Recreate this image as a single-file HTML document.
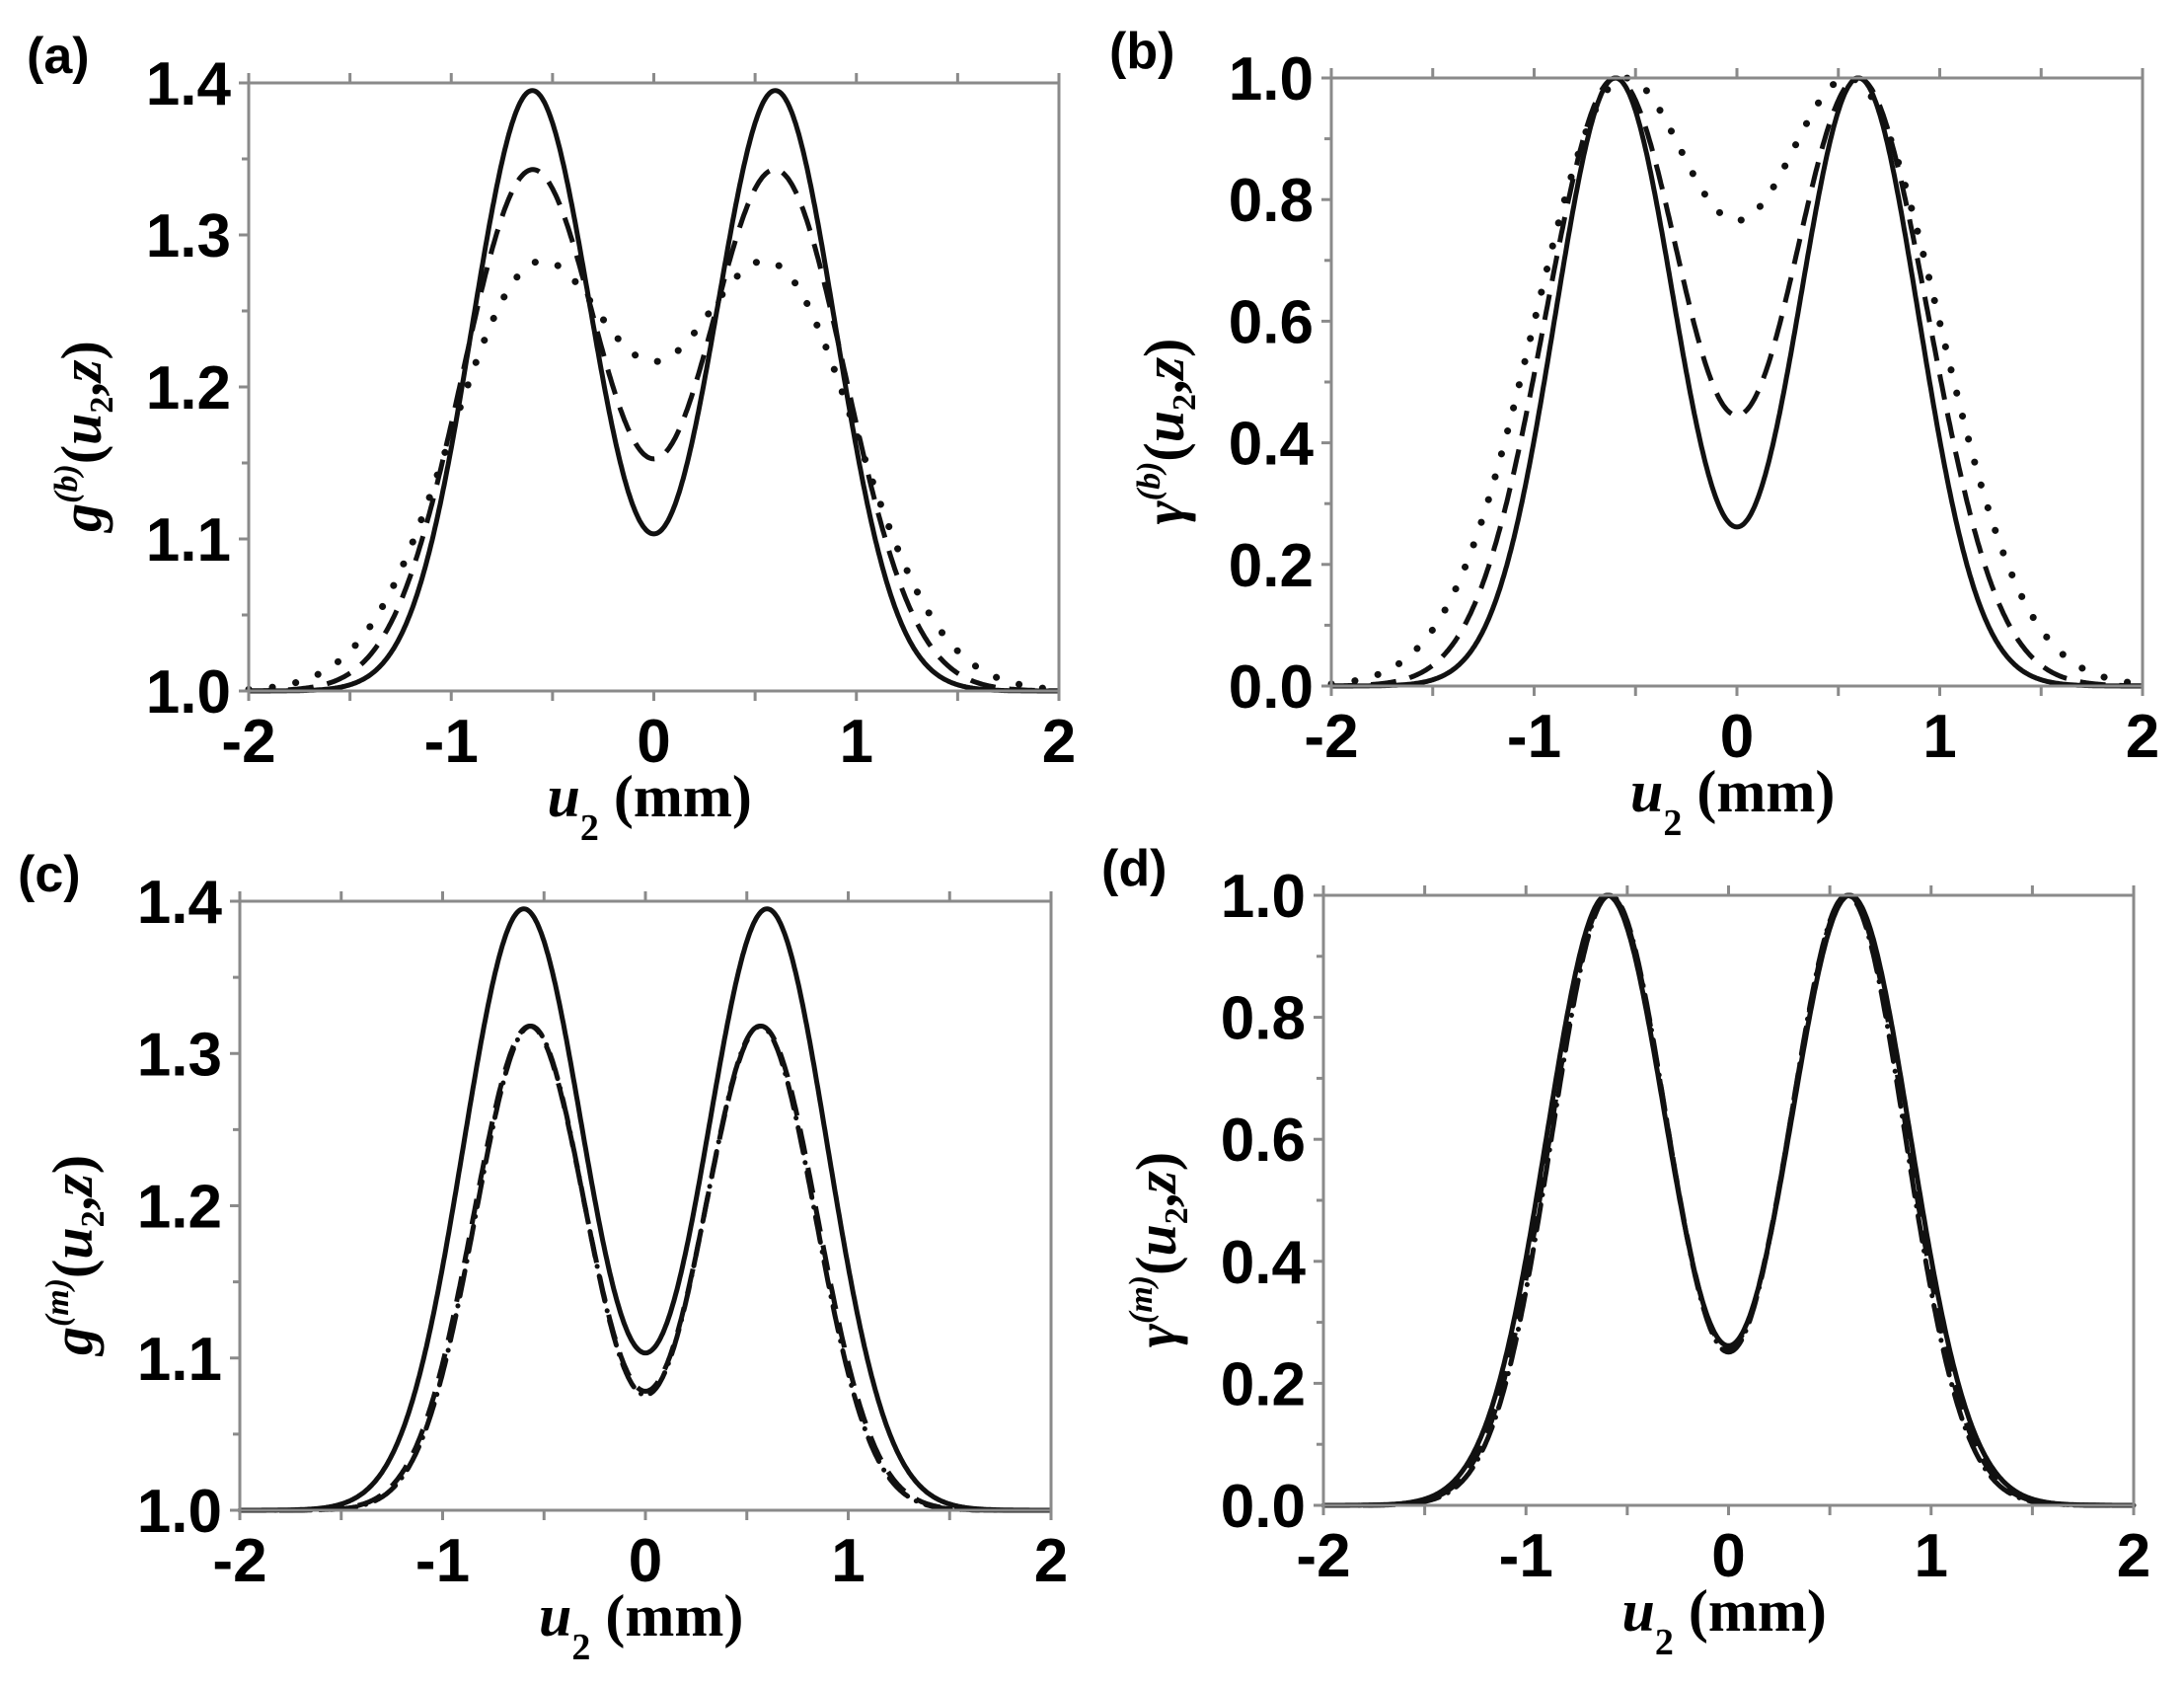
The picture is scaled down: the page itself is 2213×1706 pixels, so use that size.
<!DOCTYPE html>
<html><head><meta charset="utf-8"><style>
html,body{margin:0;padding:0;background:#fff;}
svg{display:block;}
</style></head><body>
<svg id="s" xmlns="http://www.w3.org/2000/svg" width="2213" height="1706" viewBox="0 0 2213 1706"></svg>
<script>
const NS="http://www.w3.org/2000/svg";
const S=document.getElementById('s');
function el(t,a,txt){const e=document.createElementNS(NS,t);for(const k in a)e.setAttribute(k,a[k]);if(txt!==undefined)e.textContent=txt;S.appendChild(e);return e;}
function prof(a,s2){const f=x=>Math.exp(-(x-a)*(x-a)/s2)+Math.exp(-(x+a)*(x+a)/s2);let m=0;for(let x=0;x<2;x+=0.001)m=Math.max(m,f(x));return x=>f(x)/m;}
const solid=prof(0.6,0.177), dash=prof(0.6,0.24), dot=prof(0.58,0.36), narrow=prof(0.57,0.155), narrow2=prof(0.565,0.15);
function panel(o){
 const {x0,x1,y0,y1,ymin,ymax,ticks,fmt,label,ylab,sup,curves}=o;
 const X=v=>x0+(v+2)/4*(x1-x0), Y=v=>y1-(v-ymin)/(ymax-ymin)*(y1-y0);
 for(const c of curves){
  let d="";for(let i=0;i<=800;i++){const u=-2+4*i/800;const v=c.f(u);d+=(i?"L":"M")+X(u).toFixed(1)+","+Y(v).toFixed(1);}
  el('path',{d,fill:'none',stroke:'#111','stroke-width':c.w||5,'stroke-dasharray':c.da||'none','stroke-linecap':c.cap||'butt'});
 }
 const g='#8a8a8a';
 el('path',{d:`M${x0},${y0}H${x1}V${y1}H${x0}Z`,fill:'none',stroke:g,'stroke-width':3});
 for(let v=-2;v<=2.001;v+=0.5){const xx=X(v);
  el('line',{x1:xx,y1:y1,x2:xx,y2:y1+10,stroke:g,'stroke-width':3});
  el('line',{x1:xx,y1:y0,x2:xx,y2:y0-10,stroke:g,'stroke-width':3});
  if(Math.abs(v-Math.round(v))<1e-6)el('text',{x:xx,y:y1+72,'text-anchor':'middle','font-family':'Liberation Sans,sans-serif','font-weight':'bold','font-size':62},String(Math.round(v)));}
 const n=ticks.length;
 for(let i=0;i<n;i++){const yy=Y(ticks[i]);
  el('line',{x1:x0,y1:yy,x2:x0-10,y2:yy,stroke:g,'stroke-width':3});
  el('text',{x:x0-18,y:yy+22,'text-anchor':'end','font-family':'Liberation Sans,sans-serif','font-weight':'bold','font-size':62},fmt(ticks[i]));
  if(i<n-1){const ym=Y((ticks[i]+ticks[i+1])/2);el('line',{x1:x0,y1:ym,x2:x0-7,y2:ym,stroke:g,'stroke-width':3});}}
 el('text',{x:x0-225,y:y0-10,'font-family':'Liberation Sans,sans-serif','font-weight':'bold','font-size':52},label);
 const cx=(x0+x1)/2, by=y1+127;
 const t=el('text',{x:cx-108,y:by,'font-family':'Liberation Serif,serif','font-weight':'bold','font-size':60});
 t.innerHTML=`<tspan font-style="italic">u</tspan><tspan font-size="38" dy="24">2</tspan><tspan dy="-24"> (mm)</tspan>`;
 const cy=(y0+y1)/2+50;
 const yt=el('text',{transform:`translate(${x0-150},${cy}) rotate(-90)`,'text-anchor':'middle','font-family':'Liberation Serif,serif','font-weight':'bold','font-size':58});
 yt.innerHTML=`<tspan font-style="italic">${ylab}</tspan><tspan font-size="34" dy="-24" font-style="italic">(${sup})</tspan><tspan dy="24">(</tspan><tspan font-style="italic">u</tspan><tspan font-size="34" dy="12">2</tspan><tspan dy="-12">,</tspan><tspan font-style="italic">z</tspan><tspan>)</tspan>`;
}
const gfmt=v=>v.toFixed(1);
const DA='26,14', DOT='0.1,24', DD='26,10,0.1,10';
panel({x0:252,x1:1073,y0:84,y1:700,ymin:1,ymax:1.4,ticks:[1,1.1,1.2,1.3,1.4],fmt:gfmt,label:'(a)',ylab:'g',sup:'b',
 curves:[{f:u=>1+0.395*solid(u)},{f:u=>1+0.343*dash(u),da:DA},{f:u=>1+0.283*dot(u),da:DOT,cap:'round',w:7}]});
panel({x0:1349,x1:2171,y0:79,y1:695,ymin:0,ymax:1,ticks:[0,0.2,0.4,0.6,0.8,1.0],fmt:gfmt,label:'(b)',ylab:'γ',sup:'b',
 curves:[{f:u=>solid(u)},{f:u=>dash(u),da:DA},{f:u=>dot(u),da:DOT,cap:'round',w:7}]});
panel({x0:243,x1:1065,y0:913,y1:1530,ymin:1,ymax:1.4,ticks:[1,1.1,1.2,1.3,1.4],fmt:gfmt,label:'(c)',ylab:'g',sup:'m',
 curves:[{f:u=>1+0.395*solid(u)},{f:u=>1+0.318*narrow(u),da:DA},{f:u=>1+0.318*narrow2(u),da:DD,cap:'round'}]});
panel({x0:1341,x1:2162,y0:907,y1:1525,ymin:0,ymax:1,ticks:[0,0.2,0.4,0.6,0.8,1.0],fmt:gfmt,label:'(d)',ylab:'γ',sup:'m',
 curves:[{f:u=>solid(u)},{f:u=>prof(0.59,0.17)(u),da:DA},{f:u=>prof(0.585,0.165)(u),da:DD,cap:'round'}]});
</script>
</body></html>
